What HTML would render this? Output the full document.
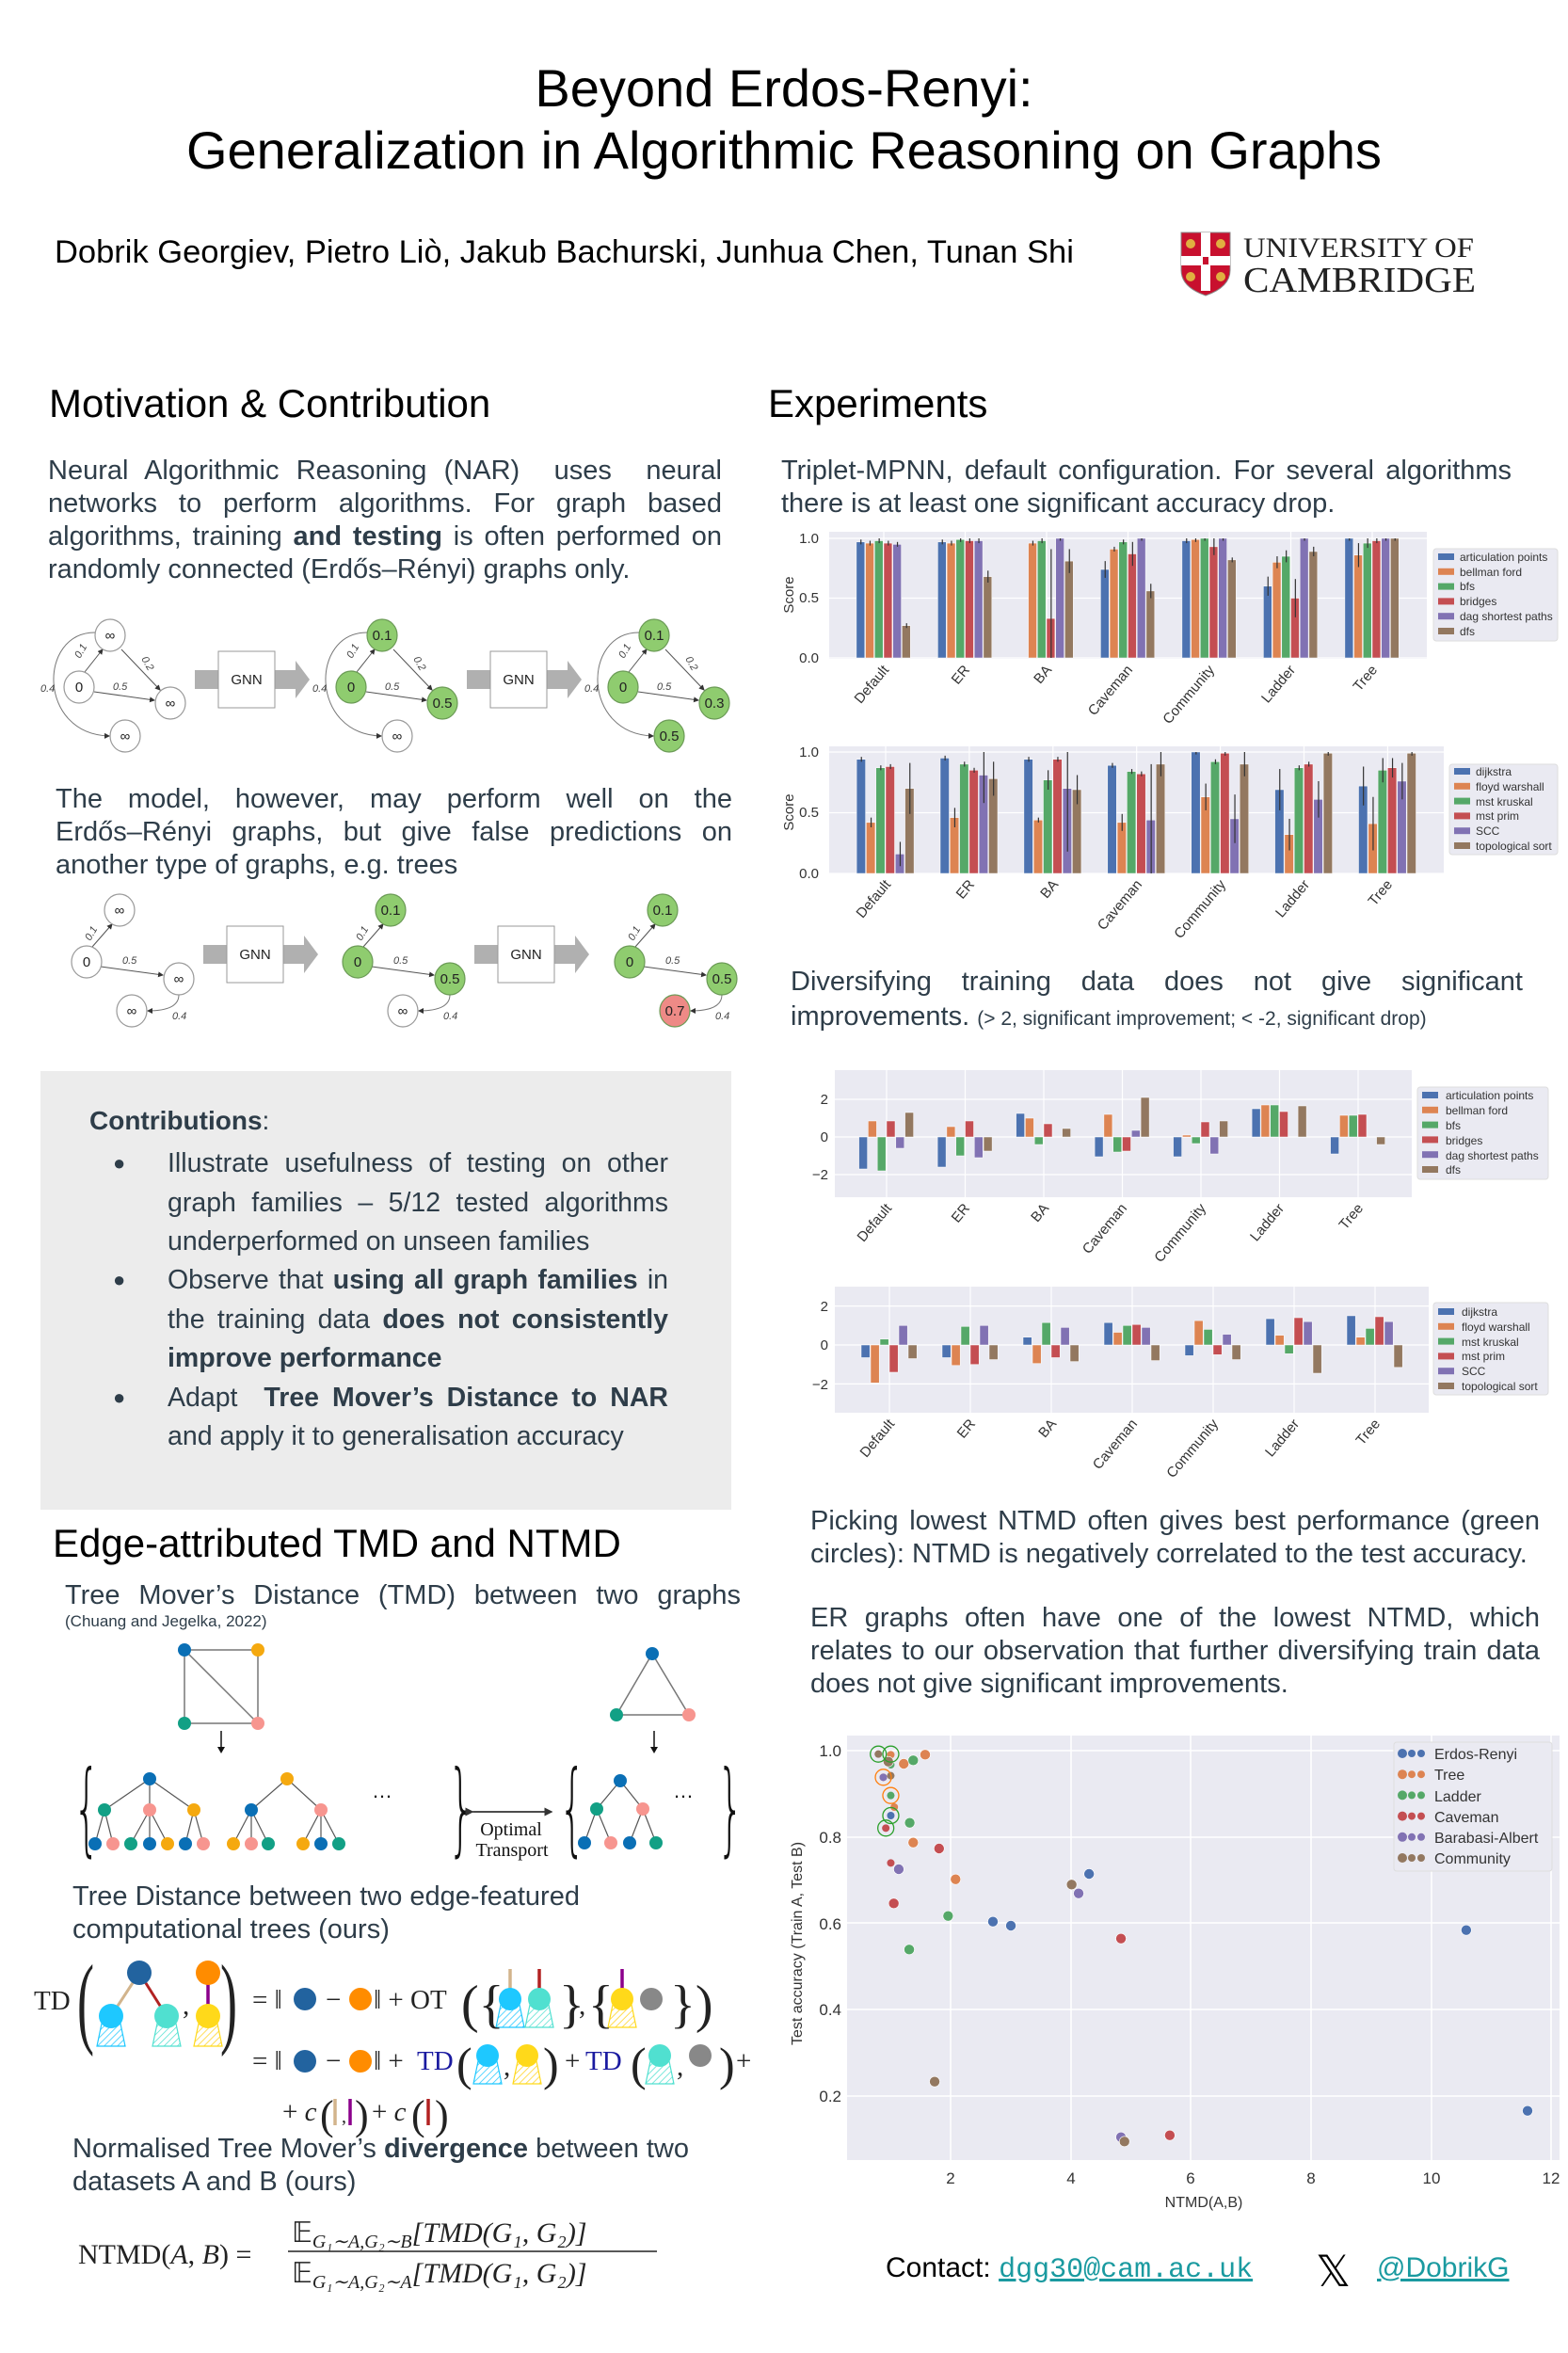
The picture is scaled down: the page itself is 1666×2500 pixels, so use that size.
<!DOCTYPE html>
<html><head><meta charset="utf-8">
<style>
html,body{margin:0;padding:0;background:#fff}
body{width:1666px;height:2500px;position:relative;overflow:hidden;font-family:"Liberation Sans",Arial,sans-serif;color:#2e3d49}
.a{position:absolute}
.p{position:absolute;font-size:29px;line-height:35px;text-align:justify;color:#2e3d49}
.j{text-align-last:justify;white-space:nowrap}
.h{position:absolute;font-size:42px;color:#000;line-height:50px}
svg text{font-family:"Liberation Sans",Arial,sans-serif}
.box{position:absolute;left:43px;top:1138px;width:734px;height:466px;background:#ececec}
.li{position:absolute;left:178px;width:532px;font-size:28.5px;line-height:41.5px;text-align:justify}
.bul{position:absolute;left:120px;font-size:22px}
</style></head><body>

<div class="a" style="left:0;width:1666px;top:61px;text-align:center;font-size:56px;line-height:66px;color:#000">Beyond Erdos-Renyi:<br>Generalization in Algorithmic Reasoning on Graphs</div>
<div class="a" style="left:58px;top:249px;font-size:34.5px;color:#000;white-space:nowrap">Dobrik Georgiev, Pietro Liò, Jakub Bachurski, Junhua Chen, Tunan Shi</div>

<div class="h" style="left:52px;top:404px">Motivation &amp; Contribution</div>
<div class="h" style="left:816px;top:404px">Experiments</div>

<div class="p" style="left:51px;top:483px;width:716px">Neural Algorithmic Reasoning (NAR) &nbsp;uses &nbsp;neural networks to perform algorithms. For graph based algorithms, training <b>and testing</b> is often performed on randomly connected (Erdős–Rényi) graphs only.</div>
<div class="p j" style="left:59px;top:832px;width:719px">The model, however, may perform well on the</div>
<div class="p j" style="left:59px;top:867px;width:719px">Erdős–Rényi graphs, but give false predictions on</div>
<div class="p" style="left:59px;top:902px;width:719px">another type of graphs, e.g. trees</div>

<div class="box"></div>
<div class="a" style="left:95px;top:1175px;font-size:28px;font-weight:bold">Contributions<span style="font-weight:normal">:</span></div>
<div class="bul" style="top:1223px">●</div>
<div class="li" style="top:1216px">Illustrate usefulness of testing on other graph families – 5/12 tested algorithms underperformed on unseen families</div>
<div class="bul" style="top:1347px">●</div>
<div class="li" style="top:1340px">Observe that <b>using all graph families</b> in the training data <b>does not consistently improve performance</b></div>
<div class="bul" style="top:1472px">●</div>
<div class="li" style="top:1465px;text-align-last:justify;white-space:nowrap">Adapt &nbsp;<b>Tree Mover’s Distance to NAR</b></div>
<div class="li" style="top:1506px;text-align:left">and apply it to generalisation accuracy</div>

<div class="h" style="left:56px;top:1615px;color:#000">Edge-attributed TMD and NTMD</div>
<div class="p" style="left:69px;top:1678px;width:718px;text-align-last:justify">Tree Mover’s Distance (TMD) between two graphs</div>
<div class="a" style="left:69px;top:1713px;font-size:17px">(Chuang and Jegelka, 2022)</div>
<div class="p" style="left:77px;top:1998px;width:720px;text-align:left">Tree Distance between two edge-featured<br>computational trees (ours)</div>
<div class="p" style="left:77px;top:2266px;width:720px;text-align:left">Normalised Tree Mover’s <b>divergence</b> between two<br>datasets A and B (ours)</div>

<div class="p" style="left:830px;top:483px;width:776px">Triplet-MPNN, default configuration. For several algorithms there is at least one significant accuracy drop.</div>
<div class="p" style="left:840px;top:1026px;width:778px;text-align-last:justify">Diversifying training data does not give significant</div>
<div class="p" style="left:840px;top:1063px;width:800px;text-align:left">improvements. <span style="font-size:21px">(&gt; 2, significant improvement; &lt; -2, significant drop)</span></div>
<div class="p" style="left:861px;top:1599px;width:775px">Picking lowest NTMD often gives best performance (green circles): NTMD is negatively correlated to the test accuracy.</div>
<div class="p" style="left:861px;top:1702px;width:775px">ER graphs often have one of the lowest NTMD, which relates to our observation that further diversifying train data does not give significant improvements.</div>

<div class="a" style="left:941px;top:2393px;font-size:30px;color:#000">Contact: <span style="font-family:'Liberation Mono',monospace;color:#1a9aa0;text-decoration:underline">dgg30@cam.ac.uk</span></div>
<div class="a" style="left:1398px;top:2388px;font-size:46px;color:#000;line-height:50px">𝕏</div>
<div class="a" style="left:1463px;top:2393px;font-size:30px;color:#1a9aa0;text-decoration:underline">@DobrikG</div>

<svg id="g" class="a" style="left:0;top:0" width="1666" height="2500" xmlns="http://www.w3.org/2000/svg">
<defs>
<pattern id="hc" width="5" height="5" patternUnits="userSpaceOnUse" patternTransform="rotate(45)"><line x1="0" y1="0" x2="0" y2="5" stroke="#1ec8ff" stroke-width="1.5"/></pattern>
<pattern id="ht" width="5" height="5" patternUnits="userSpaceOnUse" patternTransform="rotate(45)"><line x1="0" y1="0" x2="0" y2="5" stroke="#50e0d0" stroke-width="1.5"/></pattern>
<pattern id="hy" width="5" height="5" patternUnits="userSpaceOnUse" patternTransform="rotate(45)"><line x1="0" y1="0" x2="0" y2="5" stroke="#ffd21e" stroke-width="1.5"/></pattern>
<marker id="ar" markerWidth="6" markerHeight="6" refX="5" refY="3" orient="auto"><path d="M0,0 L6,3 L0,6z" fill="#333"/></marker>
</defs>
<path d="M1255,247 h52 v40 q0,18 -26,27 q-26,-9 -26,-27z" fill="#c8102e" stroke="#888" stroke-width="1"/>
<rect x="1276" y="247" width="10" height="62" fill="#fff"/><rect x="1255" y="272" width="52" height="10" fill="#fff"/>
<rect x="1278" y="273" width="6" height="8" fill="#c8102e"/>
<circle cx="1265" cy="259" r="5" fill="#e0b040"/><circle cx="1297" cy="259" r="5" fill="#e0b040"/><circle cx="1265" cy="294" r="5" fill="#e0b040"/><circle cx="1297" cy="294" r="5" fill="#e0b040"/>
<text x="1321" y="273" font-size="30" textLength="245" lengthAdjust="spacingAndGlyphs" fill="#222" style="font-family:'Liberation Serif',serif">UNIVERSITY OF</text>
<text x="1321" y="310" font-size="38" textLength="247" lengthAdjust="spacingAndGlyphs" fill="#222" style="font-family:'Liberation Serif',serif">CAMBRIDGE</text>

<g id="diag" font-size="14"></g>
<g font-size="15" text-anchor="middle" fill="#222">
<text x="262" y="727">GNN</text><text x="551" y="727">GNN</text>
<text x="271" y="1019">GNN</text><text x="559" y="1019">GNN</text>
</g>
<g font-size="15" text-anchor="middle" fill="#222">
<text x="117" y="680">∞</text><text x="84" y="735">0</text><text x="181" y="752">∞</text><text x="133" y="787">∞</text>
<text x="406" y="680">0.1</text><text x="373" y="735">0</text><text x="470" y="752">0.5</text><text x="422" y="787">∞</text>
<text x="695" y="680">0.1</text><text x="662" y="735">0</text><text x="759" y="752">0.3</text><text x="711" y="787">0.5</text>
<text x="127" y="972">∞</text><text x="92" y="1027">0</text><text x="190" y="1045">∞</text><text x="140" y="1079">∞</text>
<text x="415" y="972">0.1</text><text x="380" y="1027">0</text><text x="478" y="1045">0.5</text><text x="428" y="1079">∞</text>
<text x="704" y="972">0.1</text><text x="669" y="1027">0</text><text x="767" y="1045">0.5</text><text x="717" y="1079">0.7</text>
</g>
<g font-size="11" font-style="italic" fill="#444">
<text x="85" y="700" transform="rotate(-60 85 700)">0.1</text><text x="150" y="700" transform="rotate(60 150 700)">0.2</text><text x="120" y="733">0.5</text><text x="43" y="735">0.4</text>
<text x="374" y="700" transform="rotate(-60 374 700)">0.1</text><text x="439" y="700" transform="rotate(60 439 700)">0.2</text><text x="409" y="733">0.5</text><text x="332" y="735">0.4</text>
<text x="663" y="700" transform="rotate(-60 663 700)">0.1</text><text x="728" y="700" transform="rotate(60 728 700)">0.2</text><text x="698" y="733">0.5</text><text x="621" y="735">0.4</text>
<text x="96" y="1000" transform="rotate(-60 96 1000)">0.1</text><text x="130" y="1024">0.5</text><text x="183" y="1083">0.4</text>
<text x="384" y="1000" transform="rotate(-60 384 1000)">0.1</text><text x="418" y="1024">0.5</text><text x="471" y="1083">0.4</text>
<text x="673" y="1000" transform="rotate(-60 673 1000)">0.1</text><text x="707" y="1024">0.5</text><text x="760" y="1083">0.4</text>
</g>

<g id="tmd"></g>
<g fill="#111">
<text transform="translate(78 1958) scale(0.55 1.35)" font-size="80" style="font-family:'DejaVu Sans',sans-serif;font-weight:200">{</text>
<text transform="translate(476 1958) scale(0.55 1.35)" font-size="80" style="font-family:'DejaVu Sans',sans-serif;font-weight:200">}</text>
<text transform="translate(594 1958) scale(0.55 1.35)" font-size="80" style="font-family:'DejaVu Sans',sans-serif;font-weight:200">{</text>
<text transform="translate(762 1958) scale(0.55 1.35)" font-size="80" style="font-family:'DejaVu Sans',sans-serif;font-weight:200">}</text>
<text x="395" y="1910" font-size="22">…</text><text x="715" y="1910" font-size="22">…</text>
<text x="543" y="1950" font-size="20" text-anchor="middle" style="font-family:'Liberation Serif',serif">Optimal</text>
<text x="544" y="1972" font-size="20" text-anchor="middle" style="font-family:'Liberation Serif',serif">Transport</text>
</g>
<line x1="502" y1="1925" x2="586" y2="1925" stroke="#111" stroke-width="1.5" marker-end="url(#ar)" marker-start="url(#ar)"/>

<g id="eq"></g>
<g fill="#222" font-size="29">
<text x="36" y="2135" style="font-family:'Liberation Serif',serif">TD</text>
<text transform="translate(82 2162) scale(0.6 1.2)" font-size="90" style="font-family:'Liberation Serif',serif">(</text>
<text transform="translate(234 2162) scale(0.6 1.2)" font-size="90" style="font-family:'Liberation Serif',serif">)</text>
<text x="194" y="2140" style="font-family:'Liberation Serif',serif">,</text>
<text x="268" y="2134" style="font-family:'Liberation Serif',serif">= ‖</text>
<text x="346" y="2134" style="font-family:'Liberation Serif',serif">−</text>
<text x="397" y="2134" style="font-family:'Liberation Serif',serif">‖ + OT</text>
<text x="490" y="2148" font-size="56" style="font-family:'Liberation Serif',serif">({</text>
<text x="594" y="2148" font-size="56" style="font-family:'Liberation Serif',serif">}</text>
<text x="615" y="2140" style="font-family:'Liberation Serif',serif">,</text>
<text x="625" y="2148" font-size="56" style="font-family:'Liberation Serif',serif">{</text>
<text x="712" y="2148" font-size="56" style="font-family:'Liberation Serif',serif">})</text>
<text x="268" y="2199" style="font-family:'Liberation Serif',serif">= ‖</text>
<text x="346" y="2199" style="font-family:'Liberation Serif',serif">−</text>
<text x="397" y="2199" style="font-family:'Liberation Serif',serif">‖ +</text>
<text x="443" y="2199" fill="#1a1aa0" style="font-family:'Liberation Serif',serif">TD</text>
<text x="485" y="2210" font-size="50" style="font-family:'Liberation Serif',serif">(</text>
<text x="535" y="2205" style="font-family:'Liberation Serif',serif">,</text>
<text x="577" y="2210" font-size="50" style="font-family:'Liberation Serif',serif">)</text>
<text x="600" y="2199" style="font-family:'Liberation Serif',serif">+</text>
<text x="622" y="2199" fill="#1a1aa0" style="font-family:'Liberation Serif',serif">TD</text>
<text x="670" y="2210" font-size="50" style="font-family:'Liberation Serif',serif">(</text>
<text x="719" y="2205" style="font-family:'Liberation Serif',serif">,</text>
<text x="764" y="2210" font-size="50" style="font-family:'Liberation Serif',serif">)</text>
<text x="782" y="2199" style="font-family:'Liberation Serif',serif">+</text>
<text x="300" y="2253" style="font-family:'Liberation Serif',serif">+ <tspan font-style="italic">c</tspan></text>
<text x="340" y="2262" font-size="44" style="font-family:'Liberation Serif',serif">(</text>
<text x="363" y="2255" font-size="20" style="font-family:'Liberation Serif',serif">,</text>
<text x="377" y="2262" font-size="44" style="font-family:'Liberation Serif',serif">)</text>
<text x="395" y="2253" style="font-family:'Liberation Serif',serif">+ <tspan font-style="italic">c</tspan></text>
<text x="437" y="2262" font-size="44" style="font-family:'Liberation Serif',serif">(</text>
<text x="462" y="2262" font-size="44" style="font-family:'Liberation Serif',serif">)</text>
</g>
<g fill="#222" font-size="30">
<text x="83" y="2405" style="font-family:'Liberation Serif',serif">NTMD(<tspan font-style="italic">A</tspan>, <tspan font-style="italic">B</tspan>) =</text>
<text x="310" y="2382" style="font-family:'Liberation Serif',serif">𝔼<tspan font-size="20" font-style="italic" dy="6">G₁∼A,G₂∼B</tspan><tspan dy="-6" font-style="italic">[TMD(G₁, G₂)]</tspan></text>
<text x="310" y="2425" style="font-family:'Liberation Serif',serif">𝔼<tspan font-size="20" font-style="italic" dy="6">G₁∼A,G₂∼A</tspan><tspan dy="-6" font-style="italic">[TMD(G₁, G₂)]</tspan></text>
</g>
<line x1="306" y1="2392" x2="698" y2="2392" stroke="#222" stroke-width="1.5"/>

<g id="charts"></g>
<g font-size="15" fill="#333" text-anchor="end">
<text x="870" y="577">1.0</text><text x="870" y="640">0.5</text><text x="870" y="704">0.0</text>
<text x="870" y="804">1.0</text><text x="870" y="868">0.5</text><text x="870" y="933">0.0</text>
<text x="880" y="1173">2</text><text x="880" y="1213">0</text><text x="880" y="1253">−2</text>
<text x="880" y="1393">2</text><text x="880" y="1434">0</text><text x="880" y="1476">−2</text>
</g>
<g font-size="15" fill="#333" text-anchor="middle">
<text x="0" y="0" transform="translate(843 632) rotate(-90)">Score</text>
<text x="0" y="0" transform="translate(843 863) rotate(-90)">Score</text>
</g>
<g font-size="15" fill="#333" text-anchor="end">
<text transform="translate(945 712) rotate(-50)">Default</text><text transform="translate(1031 712) rotate(-50)">ER</text><text transform="translate(1118 712) rotate(-50)">BA</text><text transform="translate(1204 712) rotate(-50)">Caveman</text><text transform="translate(1291 712) rotate(-50)">Community</text><text transform="translate(1377 712) rotate(-50)">Ladder</text><text transform="translate(1464 712) rotate(-50)">Tree</text>
<text transform="translate(947 940) rotate(-50)">Default</text><text transform="translate(1036 940) rotate(-50)">ER</text><text transform="translate(1125 940) rotate(-50)">BA</text><text transform="translate(1214 940) rotate(-50)">Caveman</text><text transform="translate(1303 940) rotate(-50)">Community</text><text transform="translate(1392 940) rotate(-50)">Ladder</text><text transform="translate(1480 940) rotate(-50)">Tree</text>
<text transform="translate(948 1284) rotate(-50)">Default</text><text transform="translate(1031 1284) rotate(-50)">ER</text><text transform="translate(1115 1284) rotate(-50)">BA</text><text transform="translate(1198 1284) rotate(-50)">Caveman</text><text transform="translate(1282 1284) rotate(-50)">Community</text><text transform="translate(1365 1284) rotate(-50)">Ladder</text><text transform="translate(1449 1284) rotate(-50)">Tree</text>
<text transform="translate(951 1513) rotate(-50)">Default</text><text transform="translate(1037 1513) rotate(-50)">ER</text><text transform="translate(1123 1513) rotate(-50)">BA</text><text transform="translate(1209 1513) rotate(-50)">Caveman</text><text transform="translate(1295 1513) rotate(-50)">Community</text><text transform="translate(1381 1513) rotate(-50)">Ladder</text><text transform="translate(1467 1513) rotate(-50)">Tree</text>
</g>
<g font-size="12" fill="#333">
<text x="1551" y="596">articulation points</text><text x="1551" y="612">bellman ford</text><text x="1551" y="627">bfs</text><text x="1551" y="643">bridges</text><text x="1551" y="659">dag shortest paths</text><text x="1551" y="675">dfs</text>
<text x="1568" y="824">dijkstra</text><text x="1568" y="840">floyd warshall</text><text x="1568" y="856">mst kruskal</text><text x="1568" y="871">mst prim</text><text x="1568" y="887">SCC</text><text x="1568" y="903">topological sort</text>
<text x="1536" y="1168">articulation points</text><text x="1536" y="1184">bellman ford</text><text x="1536" y="1200">bfs</text><text x="1536" y="1216">bridges</text><text x="1536" y="1232">dag shortest paths</text><text x="1536" y="1247">dfs</text>
<text x="1553" y="1398">dijkstra</text><text x="1553" y="1414">floyd warshall</text><text x="1553" y="1430">mst kruskal</text><text x="1553" y="1445">mst prim</text><text x="1553" y="1461">SCC</text><text x="1553" y="1477">topological sort</text>
</g>
<g font-size="17" fill="#333" text-anchor="middle">
<text x="1010" y="2320">2</text><text x="1138" y="2320">4</text><text x="1265" y="2320">6</text><text x="1393" y="2320">8</text><text x="1521" y="2320">10</text><text x="1648" y="2320">12</text>
<text x="1279" y="2345" font-size="16">NTMD(A,B)</text>
<text transform="translate(852 2065) rotate(-90)" font-size="16">Test accuracy (Train A, Test B)</text>
</g>
<g font-size="17" fill="#333" text-anchor="end">
<text x="894" y="1866">1.0</text><text x="894" y="1958">0.8</text><text x="894" y="2050">0.6</text><text x="894" y="2141">0.4</text><text x="894" y="2233">0.2</text>
</g>
<g font-size="16" fill="#333">
<text x="1524" y="1869">Erdos-Renyi</text><text x="1524" y="1891">Tree</text><text x="1524" y="1914">Ladder</text><text x="1524" y="1936">Caveman</text><text x="1524" y="1958">Barabasi-Albert</text><text x="1524" y="1980">Community</text>
</g>
</svg>

<script>
(function(){
var NS='http://www.w3.org/2000/svg';
function E(t,a,p){var e=document.createElementNS(NS,t);for(var k in a)e.setAttribute(k,a[k]);(p||document.getElementById('charts')).appendChild(e);return e;}
var C=['#4c72b0','#dd8452','#55a868','#c44e52','#8172b3','#937860'];
var dg=document.getElementById('diag');
var G='#8fcc6f',R='#ee8a86';
function node(x,y,f){E('ellipse',{cx:x,cy:y,rx:16,ry:17,fill:f||'#fff',stroke:f&&f!='#fff'?'#6a9a55':'#999','stroke-width':1.2},dg);}
function ln(x1,y1,x2,y2){E('line',{x1:x1,y1:y1,x2:x2,y2:y2,stroke:'#555','stroke-width':1,'marker-end':'url(#ar)'},dg);}
function gnn(x,y){E('rect',{x:x-25,y:y+20,width:25,height:20,fill:'#b0b0b0'},dg);E('rect',{x:x+60,y:y+20,width:22,height:20,fill:'#b0b0b0'},dg);E('path',{d:'M'+(x+82)+','+(y+10)+' L'+(x+97)+','+(y+30)+' L'+(x+82)+','+(y+50)+'z',fill:'#b0b0b0'},dg);E('rect',{x:x,y:y,width:60,height:60,fill:'#fff',stroke:'#999'},dg);}
[[0,['#fff','#fff','#fff','#fff']],[289,[G,G,G,'#fff']],[578,[G,G,G,G]]].forEach(function(s){var o=s[0],c=s[1];
 ln(90+o,714,109+o,690);ln(129+o,690,170+o,733);ln(100+o,735,164+o,744);
 E('path',{d:'M'+(101+o)+',672 C'+(40+o)+',672 '+(40+o)+',780 '+(116+o)+',782',fill:'none',stroke:'#777','marker-end':'url(#ar)'},dg);
 node(117+o,675,c[0]);node(84+o,730,c[1]);node(181+o,747,c[2]);node(133+o,782,c[3]);});
gnn(232,692);gnn(521,692);
[[0,['#fff','#fff','#fff','#fff']],[288,[G,G,G,'#fff']],[577,[G,G,G,R]]].forEach(function(s){var o=s[0],c=s[1];
 ln(98+o,1006,119+o,982);ln(107+o,1027,173+o,1036);
 E('path',{d:'M'+(190+o)+',1057 C'+(190+o)+',1070 '+(175+o)+',1074 '+(157+o)+',1074',fill:'none',stroke:'#777','marker-end':'url(#ar)'},dg);
 node(127+o,967,c[0]);node(92+o,1022,c[1]);node(190+o,1040,c[2]);node(140+o,1074,c[3]);});
gnn(241,984);gnn(529,984);
var tm=document.getElementById('tmd');
var B='#0a6fb5',O='#f5a90f',T='#12a085',P='#f7958f';
function dot(x,y,c,r){E('circle',{cx:x,cy:y,r:r||7,fill:c},tm);}
function L(x1,y1,x2,y2,c,w){E('line',{x1:x1,y1:y1,x2:x2,y2:y2,stroke:c||'#777','stroke-width':w||1.5},tm);}
L(196,1753,274,1753);L(196,1753,196,1831);L(274,1753,274,1831);L(196,1831,274,1831);L(196,1753,274,1831);
dot(196,1753,B);dot(274,1753,O);dot(196,1831,T);dot(274,1831,P);
L(693,1757,655,1822);L(693,1757,732,1822);L(655,1822,732,1822);
dot(693,1757,B);dot(655,1822,T);dot(732,1822,P);
L(235,1839,235,1860,'#111',1.5);E('path',{d:'M231,1856 L235,1863 L239,1856z',fill:'#111'},tm);
L(695,1839,695,1860,'#111',1.5);E('path',{d:'M691,1856 L695,1863 L699,1856z',fill:'#111'},tm);
function tree(r,kids){kids.forEach(function(k){L(r[0],r[1],k[0],k[1],'#555',1.2);(k[3]||[]).forEach(function(l){L(k[0],k[1],l[0],l[1],'#555',1.2);dot(l[0],l[1],l[2]);});dot(k[0],k[1],k[2]);});dot(r[0],r[1],r[2]);}
tree([159,1890,B],[[111,1923,T,[[101,1959,B],[120,1959,P]]],[159,1923,P,[[139,1959,T],[159,1959,B],[178,1959,O]]],[206,1923,O,[[197,1959,B],[216,1959,P]]]]);
tree([305,1890,O],[[267,1923,B,[[248,1959,O],[267,1959,P],[285,1959,T]]],[341,1923,P,[[322,1959,O],[341,1959,B],[360,1959,T]]]]);
tree([659,1892,B],[[634,1922,T,[[621,1958,B],[649,1958,P]]],[683,1922,P,[[669,1958,B],[697,1958,T]]]]);
var eq=document.getElementById('eq');
function ec(x,y,c,r){E('circle',{cx:x,cy:y,r:r||12,fill:c},eq);}
function hat(x,y,p,s){E('path',{d:'M'+(x-10)+','+y+' L'+(x+10)+','+y+' L'+(x+15)+','+(y+24)+' L'+(x-15)+','+(y+24)+'z',fill:'url(#'+p+')',stroke:s,'stroke-width':1.2},eq);}
function bar(x,y1,y2,c){E('line',{x1:x,y1:y1,x2:x,y2:y2,stroke:c,'stroke-width':3.5},eq);}
var DB='#22639f',OR='#ff8c00',CY='#1ec8ff',TQ='#50e0d0',YE='#ffd91a',GR='#888';
E('line',{x1:148,y1:2096,x2:118,y2:2142,stroke:'#d2b48c','stroke-width':3},eq);E('line',{x1:148,y1:2096,x2:177,y2:2142,stroke:'#b22222','stroke-width':3},eq);
hat(118,2150,'hc',CY);hat(177,2150,'ht',TQ);ec(148,2096,DB,13);ec(118,2142,CY,13);ec(177,2142,TQ,13);
bar(221,2100,2135,'#8b008b');hat(221,2150,'hy',YE);ec(221,2096,OR,13);ec(221,2142,YE,13);
ec(324,2124,DB);ec(383,2124,OR);
bar(542,2092,2115,'#d2b48c');hat(542,2130,'hc',CY);ec(542,2124,CY);
bar(573,2092,2115,'#b22222');hat(573,2130,'ht',TQ);ec(573,2124,TQ);
bar(661,2092,2115,'#8b008b');hat(661,2130,'hy',YE);ec(661,2124,YE);ec(692,2124,GR);
ec(324,2190,DB);ec(383,2190,OR);
hat(518,2190,'hc',CY);ec(518,2184,CY);hat(560,2190,'hy',YE);ec(560,2184,YE);
hat(701,2190,'ht',TQ);ec(701,2184,TQ);ec(744,2184,GR);
bar(356,2230,2258,'#d2b48c');bar(372,2230,2258,'#8b008b');bar(455,2230,2258,'#b22222');
function chart(o){
 E('rect',{x:o.bg[0],y:o.bg[1],width:o.bg[2],height:o.bg[3],fill:'#eaeaf2'});
 o.grid.forEach(function(v){var y=o.zero-v*o.ppu;E('line',{x1:o.bg[0],x2:o.bg[0]+o.bg[2],y1:y,y2:y,stroke:'#fff','stroke-width':1.2});});
 for(var i=0;i<7;i++){var cx=o.cx0+i*o.sp;E('line',{x1:cx,x2:cx,y1:o.bg[1],y2:o.bg[1]+o.bg[3],stroke:'#fff','stroke-width':1.2});}
 o.data.forEach(function(g,i){var cx=o.cx0+i*o.sp;g.forEach(function(v,j){if(!v)return;var x=cx-3*o.bw+j*o.bw;var h=Math.abs(v)*o.ppu;
  E('rect',{x:x,y:v>0?o.zero-h:o.zero,width:o.bw-0.8,height:h,fill:C[j],stroke:'#fff','stroke-width':0.5});
  if(o.err){var e=(o.err[i]&&o.err[i][j])||0.02;E('line',{x1:x+o.bw/2,x2:x+o.bw/2,y1:o.zero-Math.min(1,v+e)*o.ppu,y2:o.zero-Math.max(0,v-e)*o.ppu,stroke:'#333','stroke-width':1.2});}
 });});
 E('rect',{x:o.lg[0],y:o.lg[1],width:o.lg[2],height:o.lg[3],fill:'#eaeaf2',stroke:'#ddd',rx:3});
 for(var k=0;k<6;k++)E('rect',{x:o.lg[0]+5,y:o.ly+k*o.ls-4,width:17,height:7,fill:C[k]});
}
chart({bg:[881,565,635,135],zero:699,ppu:127,cx0:939,sp:86.5,bw:9.7,grid:[0,.5,1],lg:[1523,583,132,98],ly:592,ls:15.8,err:{1:[0,0,0,0,0,.05],2:[0,0,0,.58,0,.1],3:[.07,0,0,.1,0,.06],4:[0,0,0,.07,0,0],5:[.08,.05,.05,.16,0,.04],6:[0,.1,.04,0,0,0]},
 data:[[.97,.96,.98,.96,.95,.27],[.97,.96,.99,.98,.98,.68],[0,.96,.98,.33,1,.81],[.74,.91,.97,.87,1,.56],[.98,.99,1,.93,1,.82],[.60,.80,.85,.50,1,.89],[1,.86,.96,.98,1,1]]});
chart({bg:[881,793,653,135],zero:928,ppu:129,cx0:941,sp:88.9,bw:10.3,grid:[0,.5,1],lg:[1540,812,115,96],ly:820,ls:15.8,err:{0:[0,.04,0,0,.1,.21],1:[0,.08,0,0,.23,.14],2:[0,0,.08,0,.52,.12],3:[0,.07,0,0,.46,.1],4:[0,.11,0,0,.2,.1],5:[.17,.13,0,0,.15,0],6:[.16,.22,.1,.08,.15,0]},
 data:[[.94,.42,.87,.88,.16,.70],[.95,.46,.90,.85,.81,.78],[.94,.44,.77,.94,.70,.69],[.89,.42,.84,.82,.44,.90],[1,.63,.92,.99,.45,.90],[.69,.32,.87,.90,.61,.99],[.72,.41,.85,.87,.76,.99]]});
chart({bg:[887,1137,613,135],zero:1208,ppu:20,cx0:942,sp:83.5,bw:9.8,grid:[-2,0,2],lg:[1506,1155,139,98],ly:1164,ls:15.8,
 data:[[-1.7,.85,-1.8,.85,-.6,1.3],[-1.6,.55,-1,.85,-1.1,-.75],[1.25,1,-.4,.7,0,.45],[-1.05,1.2,-.8,-.75,.35,2.1],[-1.05,.1,-.35,.8,-.9,.85],[1.5,1.7,1.7,1.35,0,1.65],[-.9,1.15,1.15,1.2,0,-.4]]});
chart({bg:[887,1367,631,134],zero:1429,ppu:20.7,cx0:945,sp:86,bw:10,grid:[-2,0,2],lg:[1523,1384,122,98],ly:1394,ls:15.8,
 data:[[-.65,-1.95,.3,-1.4,1,-.7],[-.65,-1.05,.95,-1,1,-.75],[.4,-.95,1.15,-.65,.9,-.85],[1.15,.65,1,1.05,.9,-.8],[-.55,1.25,.8,-.5,.55,-.75],[1.35,.5,-.45,1.4,1.2,-1.45],[1.5,.4,.85,1.45,1.2,-1.15]]});
E('rect',{x:900,y:1844,width:757,height:451,fill:'#eaeaf2'});
[1010,1138,1265,1393,1521,1648].forEach(function(x){E('line',{x1:x,x2:x,y1:1844,y2:2295,stroke:'#fff','stroke-width':1.5});});
[1860,1952,2043,2135,2227].forEach(function(y){E('line',{x1:900,x2:1657,y1:y,y2:y,stroke:'#fff','stroke-width':1.5});});
function px(z){return 830+z/1.889;}function py(z){return 1820+z/3;}
var pts=[[0,[[618,513],[425,665],[461,678],[1375,692],[1498,1268]],[[220,327]]],
[1,[[289,133],[246,162],[265,413],[350,530]],[[220,133],[205,205],[227,300]]],
[2,[[265,151],[258,350],[335,647],[257,754]],[[220,165],[220,263]]],
[3,[[317,432],[226,607],[682,719],[780,1346]],[[220,478],[210,367]]],
[4,[[236,498],[597,575],[682,1352]],[[205,205]]],
[5,[[583,547],[308,1175],[689,1366],[215,155]],[[195,131],[220,200]]]];
pts.forEach(function(s){s[1].forEach(function(p){E('circle',{cx:px(p[0]),cy:py(p[1]),r:5.5,fill:C[s[0]],stroke:'#fff','stroke-width':0.6});});
 s[2].forEach(function(p){E('circle',{cx:px(p[0]),cy:py(p[1]),r:4,fill:C[s[0]]});});});
[[195,131,'#2ca02c'],[220,131,'#2ca02c'],[205,205,'#ff7f0e'],[220,263,'#ff7f0e'],[220,327,'#2ca02c'],[210,367,'#2ca02c']].forEach(function(p){E('circle',{cx:px(p[0]),cy:py(p[1]),r:8.5,fill:'none',stroke:p[2],'stroke-width':1.3});});
E('rect',{x:1481,y:1851,width:168,height:137,fill:'#eaeaf2',stroke:'#ddd',rx:3});
for(var k=0;k<6;k++){var y=1863+k*22.2;E('circle',{cx:1490,cy:y,r:5,fill:C[k]});E('circle',{cx:1500,cy:y,r:4,fill:C[k]});E('circle',{cx:1510,cy:y,r:4,fill:C[k]});}
})();
</script>
</body></html>
